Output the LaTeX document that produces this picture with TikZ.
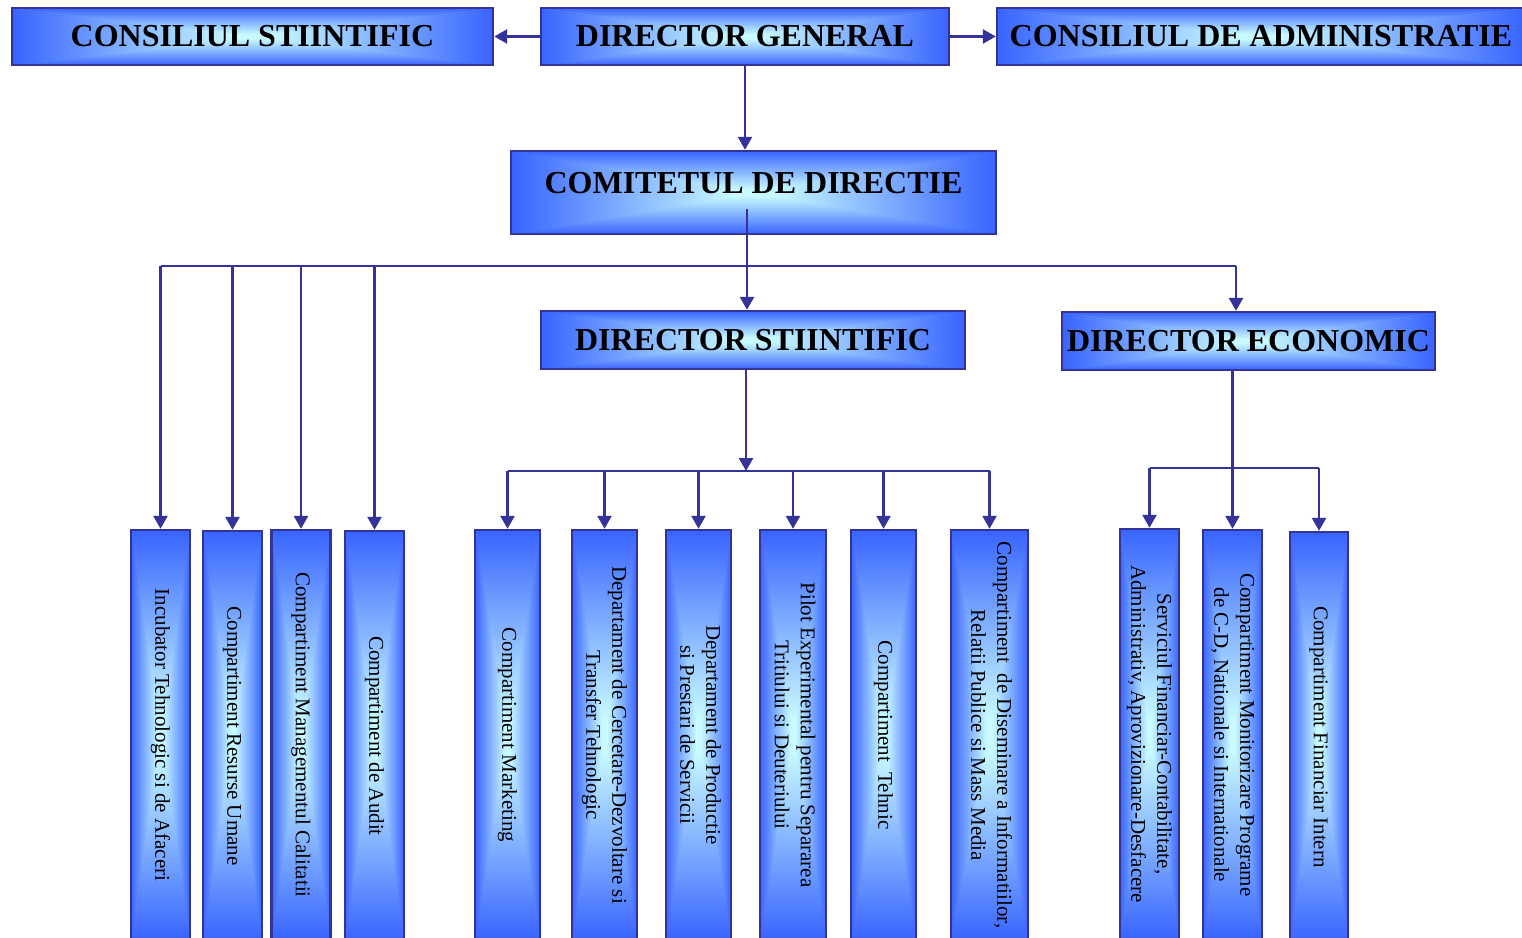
\documentclass[tikz,border=0pt]{standalone}
\usepackage{fontspec}
\setmainfont{Liberation Serif}
\usetikzlibrary{arrows.meta}
\definecolor{linkblue}{RGB}{51,51,153}
\pgfdeclarefunctionalshading{glow}{\pgfpointorigin}{\pgfpoint{100bp}{100bp}}{}{
  50 sub abs exch 50 sub abs
  2 copy lt {exch} if pop
  50 div 0.04 sub 0.46 div
  dup 0 lt {pop 0} if dup 1 gt {pop 1} if
  dup -0.564 mul 0.784 add exch -0.588 mul 0.980 add 1
}
\newcommand\vlab[1]{\rotatebox{-90}{\begin{tabular}{@{}c@{}}#1\end{tabular}}}
\begin{document}
\begin{tikzpicture}[x=1pt,y=-1pt,
  unit/.style={draw=linkblue, line width=2.4pt, inner sep=0pt, shade, shading=glow},
  head/.style={unit, font=\fontsize{32}{36}\selectfont\bfseries, minimum height=57},
  post/.style={unit, font=\fontsize{21}{26}\selectfont, minimum height=410},
  link/.style={draw=linkblue, line width=2.6pt},
  arr/.style={link, -{Triangle[length=13pt,width=14pt]}}]
\useasboundingbox (0,0) rectangle (1522,937);
\node[head, minimum width=481] (cs) at (252.5,36.5) {CONSILIUL STIINTIFIC};
\node[head, minimum width=408] (dg) at (745,36.5) {DIRECTOR GENERAL};
\node[head, minimum width=528] (ca) at (1261,36.5) {CONSILIUL DE ADMINISTRATIE};
\node[head, minimum width=485, minimum height=83, text height=42, text depth=41] (cd) at (753.5,192.5) {COMITETUL DE DIRECTIE};
\node[head, minimum width=424, minimum height=58] (ds) at (753,340) {DIRECTOR STIINTIFIC};
\node[head, minimum width=373, minimum height=58] (de) at (1248.5,341) {DIRECTOR ECONOMIC};
\node[post, minimum width=59] (b1) at (160.5,735) {\vlab{Incubator Tehnologic si de Afaceri}};
\node[post, minimum width=59] (b2) at (232.5,736) {\vlab{Compartiment Resurse Umane}};
\node[post, minimum width=59] (b3) at (301,735) {\vlab{Compartiment Managementul Calitatii}};
\node[post, minimum width=59] (b4) at (374.5,736) {\vlab{Compartiment de Audit}};
\node[post, minimum width=65] (m1) at (507.5,735) {\vlab{Compartiment Marketing}};
\node[post, minimum width=65] (m2) at (604.5,735) {\vlab{Departament de Cercetare-Dezvoltare si\\Transfer Tehnologic}};
\node[post, minimum width=65] (m3) at (698.5,735) {\vlab{Departament de Productie\\si Prestari de Servicii}};
\node[post, minimum width=66] (m4) at (793,735) {\vlab{Pilot Experimental pentru Separarea\\Tritiului si Deuteriului}};
\node[post, minimum width=65] (m5) at (883.5,735) {\vlab{Compartiment\ \ Tehnic}};
\node[post, minimum width=77] (m6) at (989.5,735) {\vlab{Compartiment\ \ de Diseminare a Informatiilor,\\Relatii Publice si Mass Media}};
\node[post, minimum width=59] (e1) at (1149.5,734) {\vlab{Serviciul Financiar-Contabilitate,\\Administrativ, Aprovizionare-Desfacere}};
\node[post, minimum width=59] (e2) at (1232.5,735) {\vlab{Compartiment Monitorizare Programe\\de C-D, Nationale si Internationale}};
\node[post, minimum width=58] (e3) at (1319,737) {\vlab{Compartiment Financiar Intern}};
\coordinate (cdout) at (747,209);
\coordinate (busl) at (160.5,266);
\coordinate (busr) at (1236,266);
\coordinate (dsbus) at (746,471);
\coordinate (debus) at (1233,468);
\draw[arr] (dg) -- (cs);
\draw[arr] (dg) -- (ca);
\draw[arr] (dg) -- (dg |- cd.north);
\draw[link] (busl) -- (busr);
\draw[arr] (cdout) -- (cdout |- ds.north);
\draw[arr] (busr) -- (busr |- de.north);
\draw[arr] (busl) -- (b1);
\draw[arr] (b2 |- busl) -- (b2);
\draw[arr] (b3 |- busl) -- (b3);
\draw[arr] (b4 |- busl) -- (b4);
\draw[arr] (ds.south -| dsbus) -- (dsbus);
\draw[link] (m1 |- dsbus) -- (m6 |- dsbus);
\draw[arr] (m1 |- dsbus) -- (m1);
\draw[arr] (m2 |- dsbus) -- (m2);
\draw[arr] (m3 |- dsbus) -- (m3);
\draw[arr] (m4 |- dsbus) -- (m4);
\draw[arr] (m5 |- dsbus) -- (m5);
\draw[arr] (m6 |- dsbus) -- (m6);
\draw[arr] (de.south -| e2) -- (e2);
\draw[link] (e1 |- debus) -- (e3 |- debus);
\draw[arr] (e1 |- debus) -- (e1);
\draw[arr] (e3 |- debus) -- (e3);
\end{tikzpicture}
\end{document}
